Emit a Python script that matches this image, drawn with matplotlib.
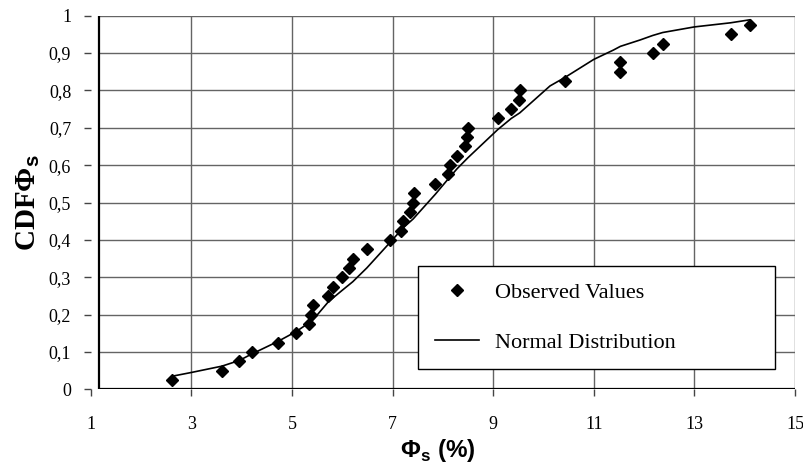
import numpy as np
import matplotlib.pyplot as plt

plt.rcParams['font.family'] = ['Liberation Serif', 'DejaVu Serif']
plt.rcParams['mathtext.fontset'] = 'custom'
plt.rcParams['mathtext.rm'] = 'Liberation Sans'
plt.rcParams['mathtext.bf'] = 'Liberation Sans:bold'

# valores observados (Phi_s en %, CDF empirica)
obs_x = [2.62, 3.61, 3.95, 4.21, 4.72, 5.09, 5.34, 5.38, 5.42, 5.71,
         5.82, 6.00, 6.13, 6.21, 6.49, 6.95, 7.17, 7.21, 7.34, 7.40,
         7.43, 7.85, 8.10, 8.14, 8.28, 8.45, 8.49, 8.50, 9.09, 9.36,
         9.52, 9.53, 10.43, 11.53, 11.53, 12.17, 12.37, 13.72, 14.10]
obs_cdf = [0.025, 0.05, 0.075, 0.1, 0.125, 0.15, 0.175, 0.2, 0.225, 0.25,
           0.275, 0.3, 0.325, 0.35, 0.375, 0.4, 0.425, 0.45, 0.475, 0.5,
           0.525, 0.55, 0.575, 0.6, 0.625, 0.65, 0.675, 0.7, 0.725, 0.75,
           0.775, 0.8, 0.825, 0.85, 0.875, 0.9, 0.925, 0.95, 0.975]

# curva normal
norm_x = [2.62, 3.0, 3.61, 3.95, 4.21, 4.72, 5.09, 5.34, 5.42, 5.71,
          5.82, 6.00, 6.21, 6.49, 6.95, 7.21, 7.41, 7.85, 8.10, 8.28,
          8.50, 9.09, 9.36, 9.53, 10.13, 10.43, 11.0, 11.39, 11.53,
          11.92, 12.17, 12.37, 13.0, 13.72, 14.10]
norm_cdf = [0.035, 0.045, 0.062, 0.077, 0.095, 0.128, 0.155, 0.178, 0.186, 0.232,
            0.245, 0.265, 0.288, 0.325, 0.393, 0.432, 0.456, 0.522, 0.562, 0.590,
            0.620, 0.695, 0.725, 0.740, 0.812, 0.835, 0.883, 0.908, 0.918,
            0.935, 0.947, 0.955, 0.970, 0.981, 0.989]

x_ticks = [1, 3, 5, 7, 9, 11, 13, 15]
y_ticks = [0, 0.1, 0.2, 0.3, 0.4, 0.5, 0.6, 0.7, 0.8, 0.9, 1.0]
y_labels = ['0', '0,1', '0,2', '0,3', '0,4', '0,5', '0,6', '0,7', '0,8', '0,9', '1']

x0 = 1.17  # borde izquierdo del area de trazado

fig = plt.figure(figsize=(8.04, 4.66), dpi=100)
ax = fig.add_axes([0.1128, 0.1646, 0.876, 0.8017])
ax.set_xlim(1, 15)
ax.set_ylim(0, 1)

# rejilla
grid_c = '#646464'
ax.hlines(y_ticks[1:], x0, 15, colors=grid_c, lw=1.0, zorder=1)
ax.vlines(x_ticks[1:], 0, 1, colors=grid_c, lw=1.0, zorder=1)
ax.plot([x0, x0], [0, 1], color='black', lw=1.6, zorder=2, solid_capstyle='butt')
ax.plot([x0, 15], [0, 0], color='black', lw=1.6, zorder=2, solid_capstyle='butt')

for s in ax.spines.values():
    s.set_visible(False)

ax.plot(norm_x, norm_cdf, color='black', lw=1.2, zorder=3, label='Normal Distribution')
ax.plot(obs_x, obs_cdf, linestyle='none', marker='D', ms=6.3, color='black',
        zorder=4, label='Observed Values')

ax.set_xticks(x_ticks)
ax.set_xticklabels([str(v) for v in x_ticks], fontsize=13)
ax.set_yticks(y_ticks)
ax.set_yticklabels(y_labels, fontsize=13)
ax.tick_params(axis='x', direction='out', length=5, width=1, colors='#444444', pad=14, labelcolor='black')
ax.tick_params(axis='y', direction='out', length=5, width=1, colors='#444444', pad=9, labelcolor='black')

h, l = ax.get_legend_handles_labels()
leg = ax.legend(h[::-1], l[::-1], loc='upper left',
                bbox_to_anchor=(0.4647, 0.06, 0.507, 0.27), mode='expand',
                fontsize=16, frameon=True, fancybox=False, framealpha=1,
                edgecolor='black', borderpad=0.75, labelspacing=1.3,
                handlelength=2.0, handletextpad=0.7, borderaxespad=0)
leg.get_frame().set_linewidth(1.0)

fig.text(28 / 804, 1 - 203 / 466, 'CDFΦ$_\\mathbf{s}$', rotation=90, ha='center', va='center',
         fontsize=21, fontweight='bold')
fig.text(438 / 804, 1 - 451 / 466, 'Φ$_\\mathbf{s}$ (%)', ha='center', va='center',
         fontsize=17.5, fontweight='bold', family=['Liberation Sans', 'DejaVu Sans'])

fig.savefig('out.png', dpi=100)
